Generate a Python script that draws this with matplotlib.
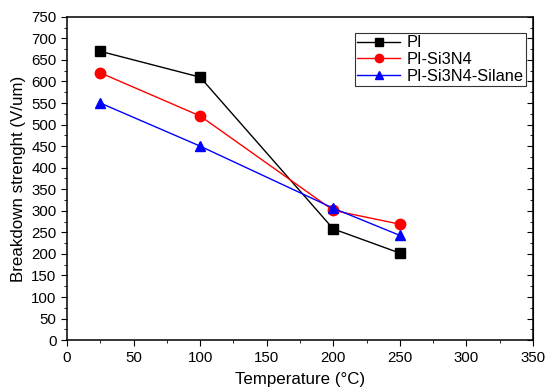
import matplotlib
matplotlib.use("Agg")
import matplotlib.pyplot as plt
from matplotlib.ticker import MultipleLocator

plt.rcParams['font.family'] = ['Liberation Sans', 'DejaVu Sans']

temperature = [25, 100, 200, 250]
pi = [670, 610, 258, 202]
pi_si3n4 = [620, 520, 301, 269]
pi_si3n4_silane = [550, 450, 306, 243]

fig = plt.figure(figsize=(5.45, 3.91), dpi=100)
ax = fig.add_axes([0.123, 0.130, 0.855, 0.827])

ax.plot(temperature, pi, color='black', marker='s', markersize=6.5, lw=1, label='PI')
ax.plot(temperature, pi_si3n4, color='red', marker='o', markersize=7.5, lw=1, label='PI-Si3N4')
ax.plot(temperature, pi_si3n4_silane, color='blue', marker='^', markersize=7.5, lw=1, label='PI-Si3N4-Silane')

ax.set_xlim(0, 350)
ax.set_ylim(0, 750)
ax.xaxis.set_major_locator(MultipleLocator(50))
ax.xaxis.set_minor_locator(MultipleLocator(25))
ax.yaxis.set_major_locator(MultipleLocator(50))
ax.yaxis.set_minor_locator(MultipleLocator(25))
ax.tick_params(which='both', direction='out', top=False, right=False, labelsize=10.8)
ax.tick_params(which='major', length=4)
ax.tick_params(which='minor', length=2.5)

# inward ticks on the right spine
sec = ax.secondary_yaxis('right')
sec.yaxis.set_major_locator(MultipleLocator(50))
sec.yaxis.set_minor_locator(MultipleLocator(25))
sec.tick_params(which='both', direction='in', labelright=False)
sec.tick_params(which='major', length=4)
sec.tick_params(which='minor', length=2.5)
for s in ax.spines.values():
    s.set_linewidth(1.1)

ax.set_xlabel('Temperature (°C)', fontsize=12.2, labelpad=5)
ax.set_ylabel('Breakdown strenght (V/um)', fontsize=12.2)

leg = ax.legend(loc='upper right', bbox_to_anchor=(0.985, 0.95), fontsize=11.8,
                frameon=True, fancybox=False, edgecolor='black', handlelength=2.6,
                borderpad=0.15, labelspacing=0.1, handletextpad=0.4, borderaxespad=0,
                markerscale=0.8)
leg.get_frame().set_linewidth(0.8)

fig.savefig('out.png', dpi=100)
